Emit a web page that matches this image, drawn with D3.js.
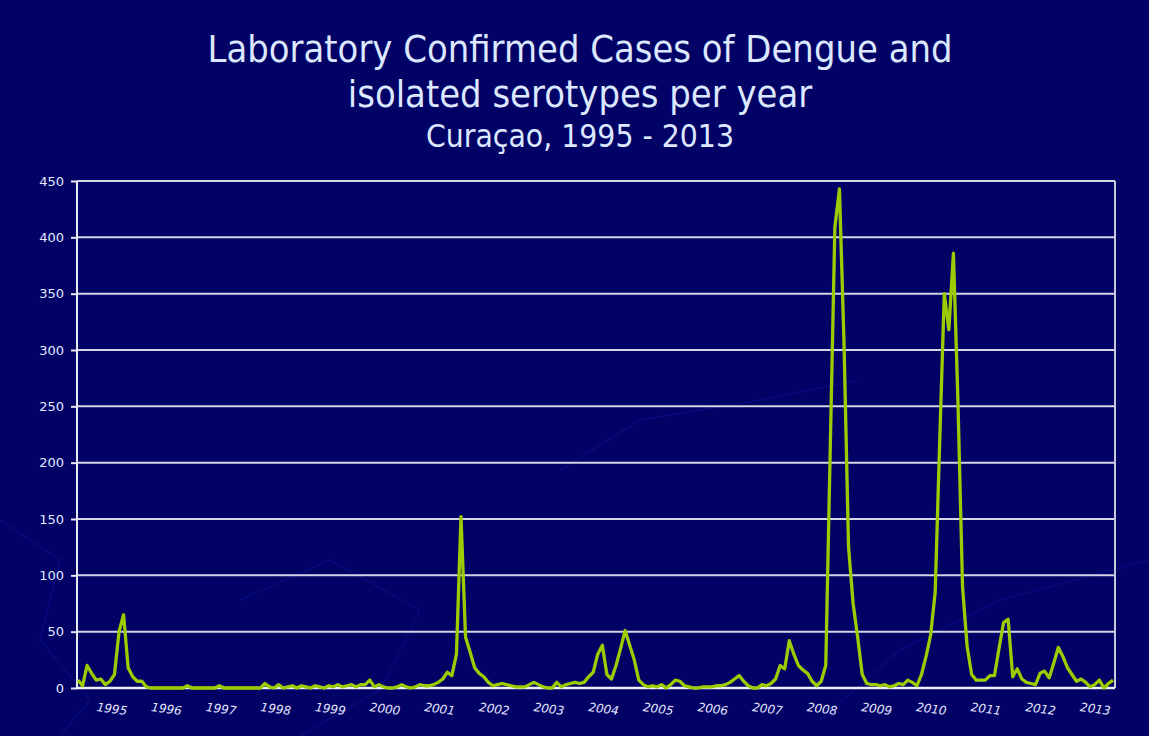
<!DOCTYPE html>
<html>
<head>
<meta charset="utf-8">
<script src="https://cdn.jsdelivr.net/npm/d3@7"></script>
<style>
html,body{margin:0;padding:0;background:#020166;}
svg{display:block;}
</style>
</head>
<body>
<svg id="chart" width="1149" height="736"></svg>
<script>
const titleLines = ["Laboratory Confirmed Cases of Dengue and", "isolated serotypes per year"];
const subtitle = "Curaçao, 1995 - 2013";
const years = ["1995","1996","1997","1998","1999","2000","2001","2002","2003","2004","2005","2006","2007","2008","2009","2010","2011","2012","2013"];
const yTicks = [0,50,100,150,200,250,300,350,400,450];
// monthly laboratory confirmed cases, Jan 1995 - Dec 2013
const cases = [
 7,2,20,13,7,8,3,6,12,50,65,18,10,6,6,
 1,0,0,0,0,0,0,0,0,2,0,0,0,0,0,
 0,2,0,0,0,0,0,0,0,0,0,4,1,0,3,
 0,1,2,0,2,1,0,2,1,0,2,1,3,1,2,
 3,1,3,3,7,1,3,1,0,0,1,3,1,0,1,
 3,2,2,3,5,8,14,11,30,152,45,32,18,13,10,
 5,2,3,4,3,2,1,1,1,3,5,3,1,0,0,
 5,1,3,4,5,4,5,10,14,30,38,12,8,20,35,
 51,38,25,7,3,1,2,1,3,0,3,7,6,2,1,
 0,0,1,1,1,2,2,3,5,8,11,6,2,0,0,
 3,2,4,8,20,17,42,30,20,16,13,6,2,6,20,
 215,409,443,307,125,75,45,12,4,3,3,2,3,1,2,
 4,3,7,5,2,12,28,47,85,220,350,318,386,253,90,
 37,12,7,7,7,11,11,35,58,61,10,17,8,5,4,
 3,13,15,9,22,36,28,18,12,6,8,5,1,3,7,
 0,4,7
];

const svg = d3.select("#chart");
const W = 1149, H = 736;
const margin = {left: 77, right: 1115, top: 181, bottom: 688};

svg.append("rect").attr("width", W).attr("height", H).attr("fill", "#020166");

// faint background decoration
const deco = svg.append("g").attr("fill","none").attr("stroke","#0b1690").attr("stroke-width",1.5).attr("opacity",0.5);
deco.append("path").attr("d","M0,520 L60,560 L40,640 L90,700 L60,736");
deco.append("path").attr("d","M240,600 L330,560 L420,610 L380,690 L300,736");
deco.append("path").attr("d","M820,720 L900,650 L1000,600 L1149,560");
deco.append("path").attr("d","M560,470 L640,420 L760,400 L860,380");

const x = d3.scaleLinear().domain([0, cases.length - 1]).range([margin.left + 1, margin.right - 2]);
const xYear = d3.scaleBand().domain(years).range([margin.left, margin.right]);
const y = d3.scaleLinear().domain([0, 450]).range([margin.bottom, margin.top]);

// gridlines
const grid = svg.append("g");
grid.selectAll("line").data(yTicks.filter(d => d > 0)).join("line")
  .attr("x1", margin.left).attr("x2", margin.right)
  .attr("y1", d => y(d)).attr("y2", d => y(d))
  .attr("stroke", "#d4d4e6").attr("stroke-width", 2);

// y axis
const yAxis = svg.append("g").attr("transform", `translate(${margin.left},0)`)
  .call(d3.axisLeft(y).tickValues(yTicks).tickSize(6).tickPadding(7));
yAxis.select(".domain").attr("stroke", "#e8e8f4").attr("stroke-width", 2).attr("d", `M0,${margin.top}V${margin.bottom}`);
yAxis.selectAll(".tick line").attr("stroke", "#e8e8f4").attr("stroke-width", 2);
yAxis.selectAll(".tick text").attr("fill", "#e4e8ff").attr("font-family", "DejaVu Sans, sans-serif").attr("font-size", 13);

// right border
svg.append("line").attr("x1", margin.right).attr("x2", margin.right).attr("y1", margin.top).attr("y2", margin.bottom)
  .attr("stroke", "#c8c8dc").attr("stroke-width", 2);

// bottom axis line
svg.append("line").attr("x1", margin.left - 1).attr("x2", margin.right).attr("y1", margin.bottom).attr("y2", margin.bottom)
  .attr("stroke", "#f0f0f8").attr("stroke-width", 2.5);

// x labels
svg.append("g").selectAll("text").data(years).join("text")
  .attr("transform", d => `translate(${xYear(d) + xYear.bandwidth()/2 + 7},${713}) rotate(8)`)
  .attr("text-anchor", "middle")
  .attr("fill", "#e4e8ff")
  .attr("font-family", "DejaVu Sans, sans-serif")
  .attr("font-style", "italic")
  .attr("font-size", 12)
  .text(d => d);

// line
const line = d3.line().x((d, i) => x(i)).y(d => y(d));
svg.append("path").datum(cases)
  .attr("d", line)
  .attr("fill", "none")
  .attr("stroke", "#9ccc00")
  .attr("stroke-width", 3.3)
  .attr("stroke-linejoin", "round");

// titles
function fitText(sel, targetW) {
  const w = sel.node().getComputedTextLength();
  const fs = parseFloat(sel.attr("font-size"));
  sel.attr("font-size", fs * targetW / w);
}
function titleText(txt, by, fs) {
  return svg.append("g").attr("transform", `translate(580,${by}) scale(1,1.1)`)
    .append("text").attr("x", 0).attr("y", 0).attr("text-anchor", "middle")
    .attr("fill", "#dce8ff").attr("font-family", "DejaVu Sans, sans-serif")
    .attr("font-size", fs).text(txt);
}
const t1 = titleText(titleLines[0], 62, 36);
fitText(t1, 745);
const t2 = titleText(titleLines[1], 107, 36);
t2.attr("font-size", t1.attr("font-size"));
const t3 = titleText(subtitle, 147, 28);
fitText(t3, 308);
</script>
</body>
</html>
